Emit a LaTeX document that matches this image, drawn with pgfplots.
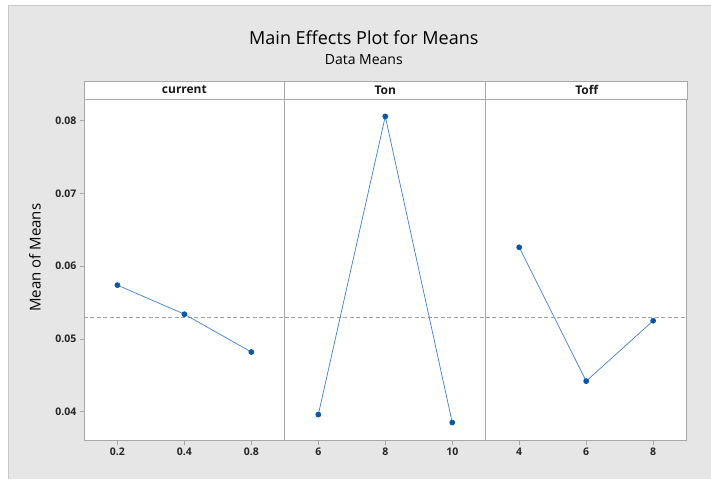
\documentclass[border=0pt]{standalone}
\usepackage{fontspec}
\setmainfont{Open Sans}
\usepackage{pgfplots}
\pgfplotsset{compat=1.18}
\definecolor{bg}{HTML}{E6E6E6}
\definecolor{frame}{HTML}{A8A8A8}
\definecolor{outer}{HTML}{C8C8C8}
\definecolor{lineblue}{HTML}{3F80CC}
\definecolor{markblue}{HTML}{0B56A6}
\definecolor{meanline}{HTML}{A0A0A0}
\pgfplotsset{
  panel/.style={
    scale only axis, width=201pt, height=342pt, anchor=south west,
    xmin=-0.5, xmax=2.5, ymin=0.036, ymax=0.083,
    scaled y ticks=false, scaled x ticks=false,
    axis line style={frame, line width=0.8pt},
    xtick={0,1,2}, tick style={frame, line width=0.6pt},
    tick align=outside, major tick length=4pt,
    xtick pos=bottom, ytick pos=left,
    ticklabel style={font=\bfseries\fontsize{10.5}{12}\selectfont, text=black!85},
    axis background/.style={fill=white},
  },
  series/.style={lineblue, line width=0.7pt, mark=*, mark size=2.5pt,
    mark options={fill=markblue, draw=markblue}},
  mean/.style={meanline, dashed, dash pattern=on 4pt off 2.5pt, line width=0.6pt},
}
\begin{document}
\begin{tikzpicture}[x=1pt,y=1pt]
\fill[white] (0,0) rectangle (711,479);
\fill[bg] (8,0) rectangle (711,474);
\draw[outer, line width=0.8pt] (8,0) -- (8,474) -- (711,474);

% current
\begin{axis}[panel, at={(84pt,38pt)},
  ytick={0.04,0.05,0.06,0.07,0.08},
  yticklabels={0.04,0.05,0.06,0.07,0.08},
  xticklabels={0.2,0.4,0.8}]
\addplot[mean] coordinates {(-0.5,0.0530) (2.5,0.0530)};
\addplot[series] coordinates {(0,0.0574) (1,0.0534) (2,0.0482)};
\end{axis}
% Ton
\begin{axis}[panel, at={(285pt,38pt)}, ytick=\empty,
  xticklabels={6,8,10}]
\addplot[mean] coordinates {(-0.5,0.0530) (2.5,0.0530)};
\addplot[series] coordinates {(0,0.0396) (1,0.0806) (2,0.0385)};
\end{axis}
% Toff
\begin{axis}[panel, at={(486pt,38pt)}, ytick=\empty,
  xticklabels={4,6,8}]
\addplot[mean] coordinates {(-0.5,0.0530) (2.5,0.0530)};
\addplot[series] coordinates {(0,0.0626) (1,0.0442) (2,0.0525)};
\end{axis}

% strip
\draw[frame, fill=white, line width=0.8pt] (84,380) rectangle (688,398);
\draw[frame, line width=0.8pt] (285,380) -- (285,398) (486,380) -- (486,398);
\node[font=\bfseries\fontsize{12}{13}\selectfont, text=black!90] at (184.5,389) {current};
\node[font=\bfseries\fontsize{12}{13}\selectfont, text=black!90] at (385.5,389) {Ton};
\node[font=\bfseries\fontsize{12}{13}\selectfont, text=black!90] at (587,389) {Toff};

\node[font=\fontsize{18}{20}\selectfont] at (364,441) {Main Effects Plot for Means};
\node[font=\fontsize{14}{16}\selectfont] at (364,419) {Data Means};
\node[rotate=90, font=\fontsize{15}{17}\selectfont] at (35,221) {Mean of Means};
\end{tikzpicture}
\end{document}
